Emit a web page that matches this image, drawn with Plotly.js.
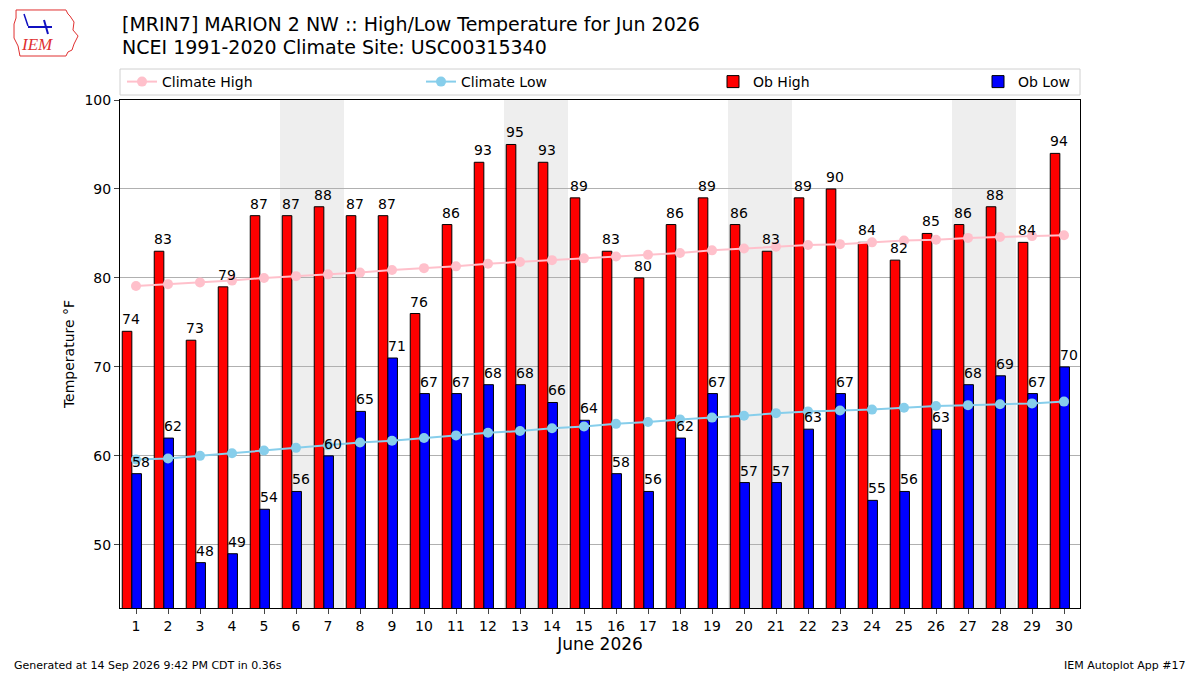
<!DOCTYPE html>
<html>
<head>
<meta charset="utf-8">
<script src="https://cdn.plot.ly/plotly-3.0.1.min.js"></script>
<style>html,body{margin:0;padding:0;background:#fff;}#chart{width:1200px;height:675px;}</style>
</head>
<body>
<div id="chart"></div>
<script>
const days = [1,2,3,4,5,6,7,8,9,10,11,12,13,14,15,16,17,18,19,20,21,22,23,24,25,26,27,28,29,30];
const obHigh = [74,83,73,79,87,87,88,87,87,76,86,93,95,93,89,83,80,86,89,86,83,89,90,84,82,85,86,88,84,94];
const obLow = [58,62,48,49,54,56,60,65,71,67,67,68,68,66,64,58,56,62,67,57,57,63,67,55,56,63,68,69,67,70];
const climHigh = [79.1,79.3,79.5,79.7,80.0,80.2,80.4,80.6,80.9,81.1,81.3,81.6,81.8,82.0,82.2,82.4,82.6,82.8,83.1,83.3,83.5,83.7,83.8,84.0,84.2,84.3,84.5,84.6,84.7,84.8];
const climLow = [59.6,59.7,60.0,60.3,60.6,60.9,61.2,61.5,61.7,62.0,62.3,62.6,62.8,63.1,63.3,63.6,63.8,64.1,64.3,64.5,64.8,65.0,65.1,65.2,65.4,65.6,65.7,65.8,65.9,66.1];
const weekendStarts = [6,13,20,27];
const yTicks = [50,60,70,80,90,100];
const titleLines = ['[MRIN7] MARION 2 NW :: High/Low Temperature for Jun 2026','NCEI 1991-2020 Climate Site: USC00315340'];

const FONT = 'DejaVu Sans, sans-serif';

function px2x(p){return (p-120)/960;}
function py2y(p){return (608-p)/508;}

const traces = [
  {type:'bar', name:'Ob High', x:days, y:obHigh, base:0, width:0.3, offset:-0.43, legend:'legend3',
   marker:{color:'#ff0000', line:{color:'#000', width:1}}},
  {type:'bar', name:'Ob Low', x:days, y:obLow, base:0, width:0.3, offset:-0.13, legend:'legend4',
   marker:{color:'#0000ff', line:{color:'#000', width:1}}},
  {type:'scatter', mode:'lines+markers', name:'Climate High', x:days, y:climHigh, legend:'legend',
   line:{color:'#ffc0cb', width:2}, marker:{color:'#ffc0cb', size:10}},
  {type:'scatter', mode:'lines+markers', name:'Climate Low', x:days, y:climLow, legend:'legend2',
   line:{color:'#87ceeb', width:2}, marker:{color:'#87ceeb', size:10}}
];

const shapes = weekendStarts.map(d => ({type:'rect', xref:'x', yref:'paper', x0:d-0.5, x1:d+1.5, y0:0, y1:1,
  fillcolor:'#eeeeee', line:{width:0}, layer:'below'}));

// legend frame
shapes.push({type:'rect', xref:'paper', yref:'paper', x0:0, x1:1, y0:py2y(95), y1:py2y(69),
  line:{color:'#d0d0d0', width:1}, fillcolor:'#ffffff', layer:'above'});

// simple IEM logo (outline) in paper coords
const outline = [[16,10],[66,10],[68,14],[70,16],[74,22],[73,30],[78,36],[74,44],[72,50],[68,52],[66,56],[20,56],[18,46],[14,38],[14,24],[16,18]];
let path = 'M ' + outline.map(p => px2x(p[0]).toFixed(4)+','+py2y(p[1]).toFixed(4)).join(' L ') + ' Z';
shapes.push({type:'path', xref:'paper', yref:'paper', path:path, line:{color:'#e03030', width:1}, fillcolor:'rgba(0,0,0,0)', layer:'above'});
shapes.push({type:'line', xref:'paper', yref:'paper', x0:px2x(28), x1:px2x(52), y0:py2y(27), y1:py2y(27), line:{color:'#1010c0', width:2}});
shapes.push({type:'line', xref:'paper', yref:'paper', x0:px2x(44), x1:px2x(48), y0:py2y(20), y1:py2y(34), line:{color:'#1010c0', width:2}});
shapes.push({type:'line', xref:'paper', yref:'paper', x0:px2x(24), x1:px2x(28), y0:py2y(14), y1:py2y(26), line:{color:'#1010c0', width:1.5}});

const annotations = [
  {xref:'paper', yref:'paper', x:0, y:py2y(24), text:titleLines[0], showarrow:false,
   font:{family:FONT, size:19, color:'#000'}, xanchor:'left', yanchor:'middle'},
  {xref:'paper', yref:'paper', x:0, y:py2y(47), text:titleLines[1], showarrow:false,
   font:{family:FONT, size:19, color:'#000'}, xanchor:'left', yanchor:'middle'},
  {xref:'paper', yref:'paper', x:px2x(37), y:py2y(45), text:'<i>IEM</i>', showarrow:false,
   font:{family:'Liberation Serif, serif', size:17, color:'#e03030'}, xanchor:'center', yanchor:'middle'},
  {xref:'paper', yref:'paper', x:px2x(12), y:py2y(665), text:'Generated at 14 Sep 2026 9:42 PM CDT in 0.36s', showarrow:false,
   font:{family:FONT, size:11, color:'#000'}, xanchor:'left', yanchor:'middle'},
  {xref:'paper', yref:'paper', x:px2x(1188), y:py2y(665), text:'IEM Autoplot App #17', showarrow:false,
   font:{family:FONT, size:11, color:'#000'}, xanchor:'right', yanchor:'middle'}
];

// value labels above bars
days.forEach((d, i) => {
  annotations.push({xref:'x', yref:'y', x:d - 0.15, y:obHigh[i], text:String(obHigh[i]), showarrow:false,
    xanchor:'center', yanchor:'bottom', yshift:2, font:{family:FONT, size:14, color:'#000'}});
  annotations.push({xref:'x', yref:'y', x:d + 0.15, y:obLow[i], text:String(obLow[i]), showarrow:false,
    xanchor:'center', yanchor:'bottom', yshift:2, font:{family:FONT, size:14, color:'#000'}});
});

function leg(xp){
  return {orientation:'h', x:px2x(xp), xanchor:'left', y:py2y(82), yanchor:'middle', borderwidth:0,
    bgcolor:'rgba(0,0,0,0)', font:{family:FONT, size:14}};
}

const layout = {
  width:1200, height:675,
  margin:{l:120, r:120, t:100, b:67},
  paper_bgcolor:'#fff', plot_bgcolor:'rgba(0,0,0,0)',
  font:{family:FONT, size:14, color:'#000'},
  barmode:'overlay',
  showlegend:true,
  legend:leg(122), legend2:leg(421), legend3:leg(713), legend4:leg(978),
  xaxis:{range:[0.5,30.5], tickmode:'array', tickvals:days, ticktext:days.map(String), ticks:'outside', ticklen:5,
    showgrid:false, zeroline:false, showline:true, mirror:true, linecolor:'#000', linewidth:1,
    tickfont:{size:14}, title:{text:'June 2026', font:{size:17}, standoff:5}},
  yaxis:{range:[42.9,100], tickmode:'array', tickvals:yTicks, ticks:'outside', ticklen:5,
    showgrid:true, gridcolor:'#b0b0b0', gridwidth:1, zeroline:false, showline:true, mirror:true, linecolor:'#000', linewidth:1,
    layer:'above traces', tickfont:{size:14}, title:{text:'Temperature °F', font:{size:14}, standoff:6}},
  shapes:shapes,
  annotations:annotations
};

Plotly.newPlot('chart', traces, layout, {displayModeBar:false, staticPlot:true});
</script>
</body>
</html>
